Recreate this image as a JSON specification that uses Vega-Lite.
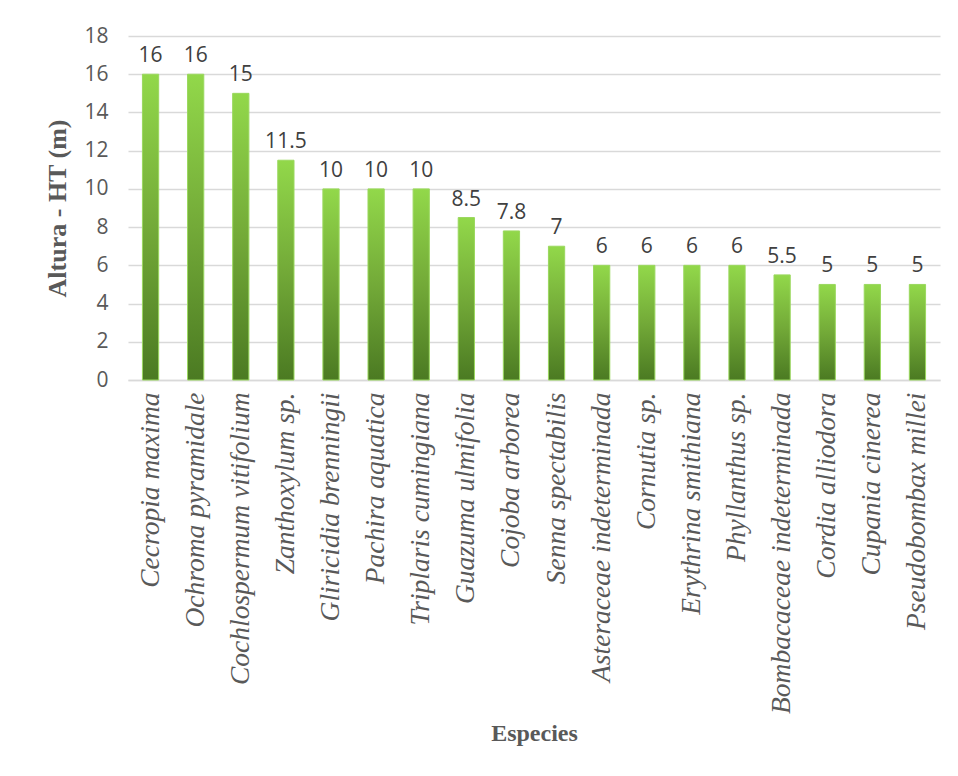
{
  "$schema": "https://vega.github.io/schema/vega-lite/v6.json",
  "width": 812,
  "height": 344,
  "autosize": {"type": "none"},
  "padding": {"left": 128, "top": 36, "right": 18, "bottom": 396},
  "background": "white",
  "data": {
    "values": [
      {"especie": "Cecropia maxima", "altura": 16, "lbl": "16"},
      {"especie": "Ochroma pyramidale", "altura": 16, "lbl": "16"},
      {"especie": "Cochlospermum vitifolium", "altura": 15, "lbl": "15"},
      {"especie": "Zanthoxylum sp.", "altura": 11.5, "lbl": "11.5"},
      {"especie": "Gliricidia brenningii", "altura": 10, "lbl": "10"},
      {"especie": "Pachira aquatica", "altura": 10, "lbl": "10"},
      {"especie": "Triplaris cumingiana", "altura": 10, "lbl": "10"},
      {"especie": "Guazuma ulmifolia", "altura": 8.5, "lbl": "8.5"},
      {"especie": "Cojoba arborea", "altura": 7.8, "lbl": "7.8"},
      {"especie": "Senna spectabilis", "altura": 7, "lbl": "7"},
      {"especie": "Asteraceae indeterminada", "altura": 6, "lbl": "6"},
      {"especie": "Cornutia sp.", "altura": 6, "lbl": "6"},
      {"especie": "Erythrina smithiana", "altura": 6, "lbl": "6"},
      {"especie": "Phyllanthus sp.", "altura": 6, "lbl": "6"},
      {"especie": "Bombacaceae indeterminada", "altura": 5.5, "lbl": "5.5"},
      {"especie": "Cordia alliodora", "altura": 5, "lbl": "5"},
      {"especie": "Cupania cinerea", "altura": 5, "lbl": "5"},
      {"especie": "Pseudobombax millei", "altura": 5, "lbl": "5"}
    ]
  },
  "encoding": {
    "x": {
      "field": "especie",
      "type": "nominal",
      "sort": null,
      "scale": {"paddingInner": 0.64, "paddingOuter": 0.32},
      "axis": {
        "title": "Especies",
        "titleFont": "Liberation Serif",
        "titleFontSize": 24,
        "titleFontWeight": "bold",
        "titleColor": "#595959",
        "titleBaseline": "middle",
        "titleY": 353,
        "labelAngle": -90,
        "labelFont": "Liberation Serif",
        "labelFontStyle": "italic",
        "labelFontSize": 27.5,
        "labelColor": "#595959",
        "labelPadding": 12,
        "labelLimit": 400,
        "ticks": false,
        "domainColor": "#d9d9d9",
        "domainWidth": 1.5
      }
    },
    "y": {
      "field": "altura",
      "type": "quantitative",
      "scale": {"domain": [0, 18]},
      "axis": {
        "title": "Altura - HT (m)",
        "titleFont": "Liberation Serif",
        "titleFontSize": 26,
        "titleFontWeight": "bold",
        "titleColor": "#595959",
        "titlePadding": 13,
        "values": [0, 2, 4, 6, 8, 10, 12, 14, 16, 18],
        "labelFont": "Open Sans",
        "labelFontSize": 21,
        "labelColor": "#595959",
        "labelPadding": 20,
        "ticks": false,
        "domain": false,
        "grid": true,
        "gridColor": "#d9d9d9",
        "gridWidth": 1.5
      }
    }
  },
  "layer": [
    {
      "mark": {
        "type": "bar",
        "stroke": "#9ad85e",
        "strokeWidth": 1,
        "color": {
          "gradient": "linear",
          "x1": 0, "y1": 0, "x2": 0, "y2": 1,
          "stops": [
            {"offset": 0, "color": "#92d84a"},
            {"offset": 0.5, "color": "#73aa38"},
            {"offset": 1, "color": "#4b7a22"}
          ]
        }
      }
    },
    {
      "mark": {
        "type": "text",
        "baseline": "bottom",
        "dy": -8,
        "font": "Open Sans",
        "fontSize": 21,
        "color": "#404040"
      },
      "encoding": {"text": {"field": "lbl", "type": "nominal"}}
    }
  ],
  "config": {"view": {"stroke": null}}
}
